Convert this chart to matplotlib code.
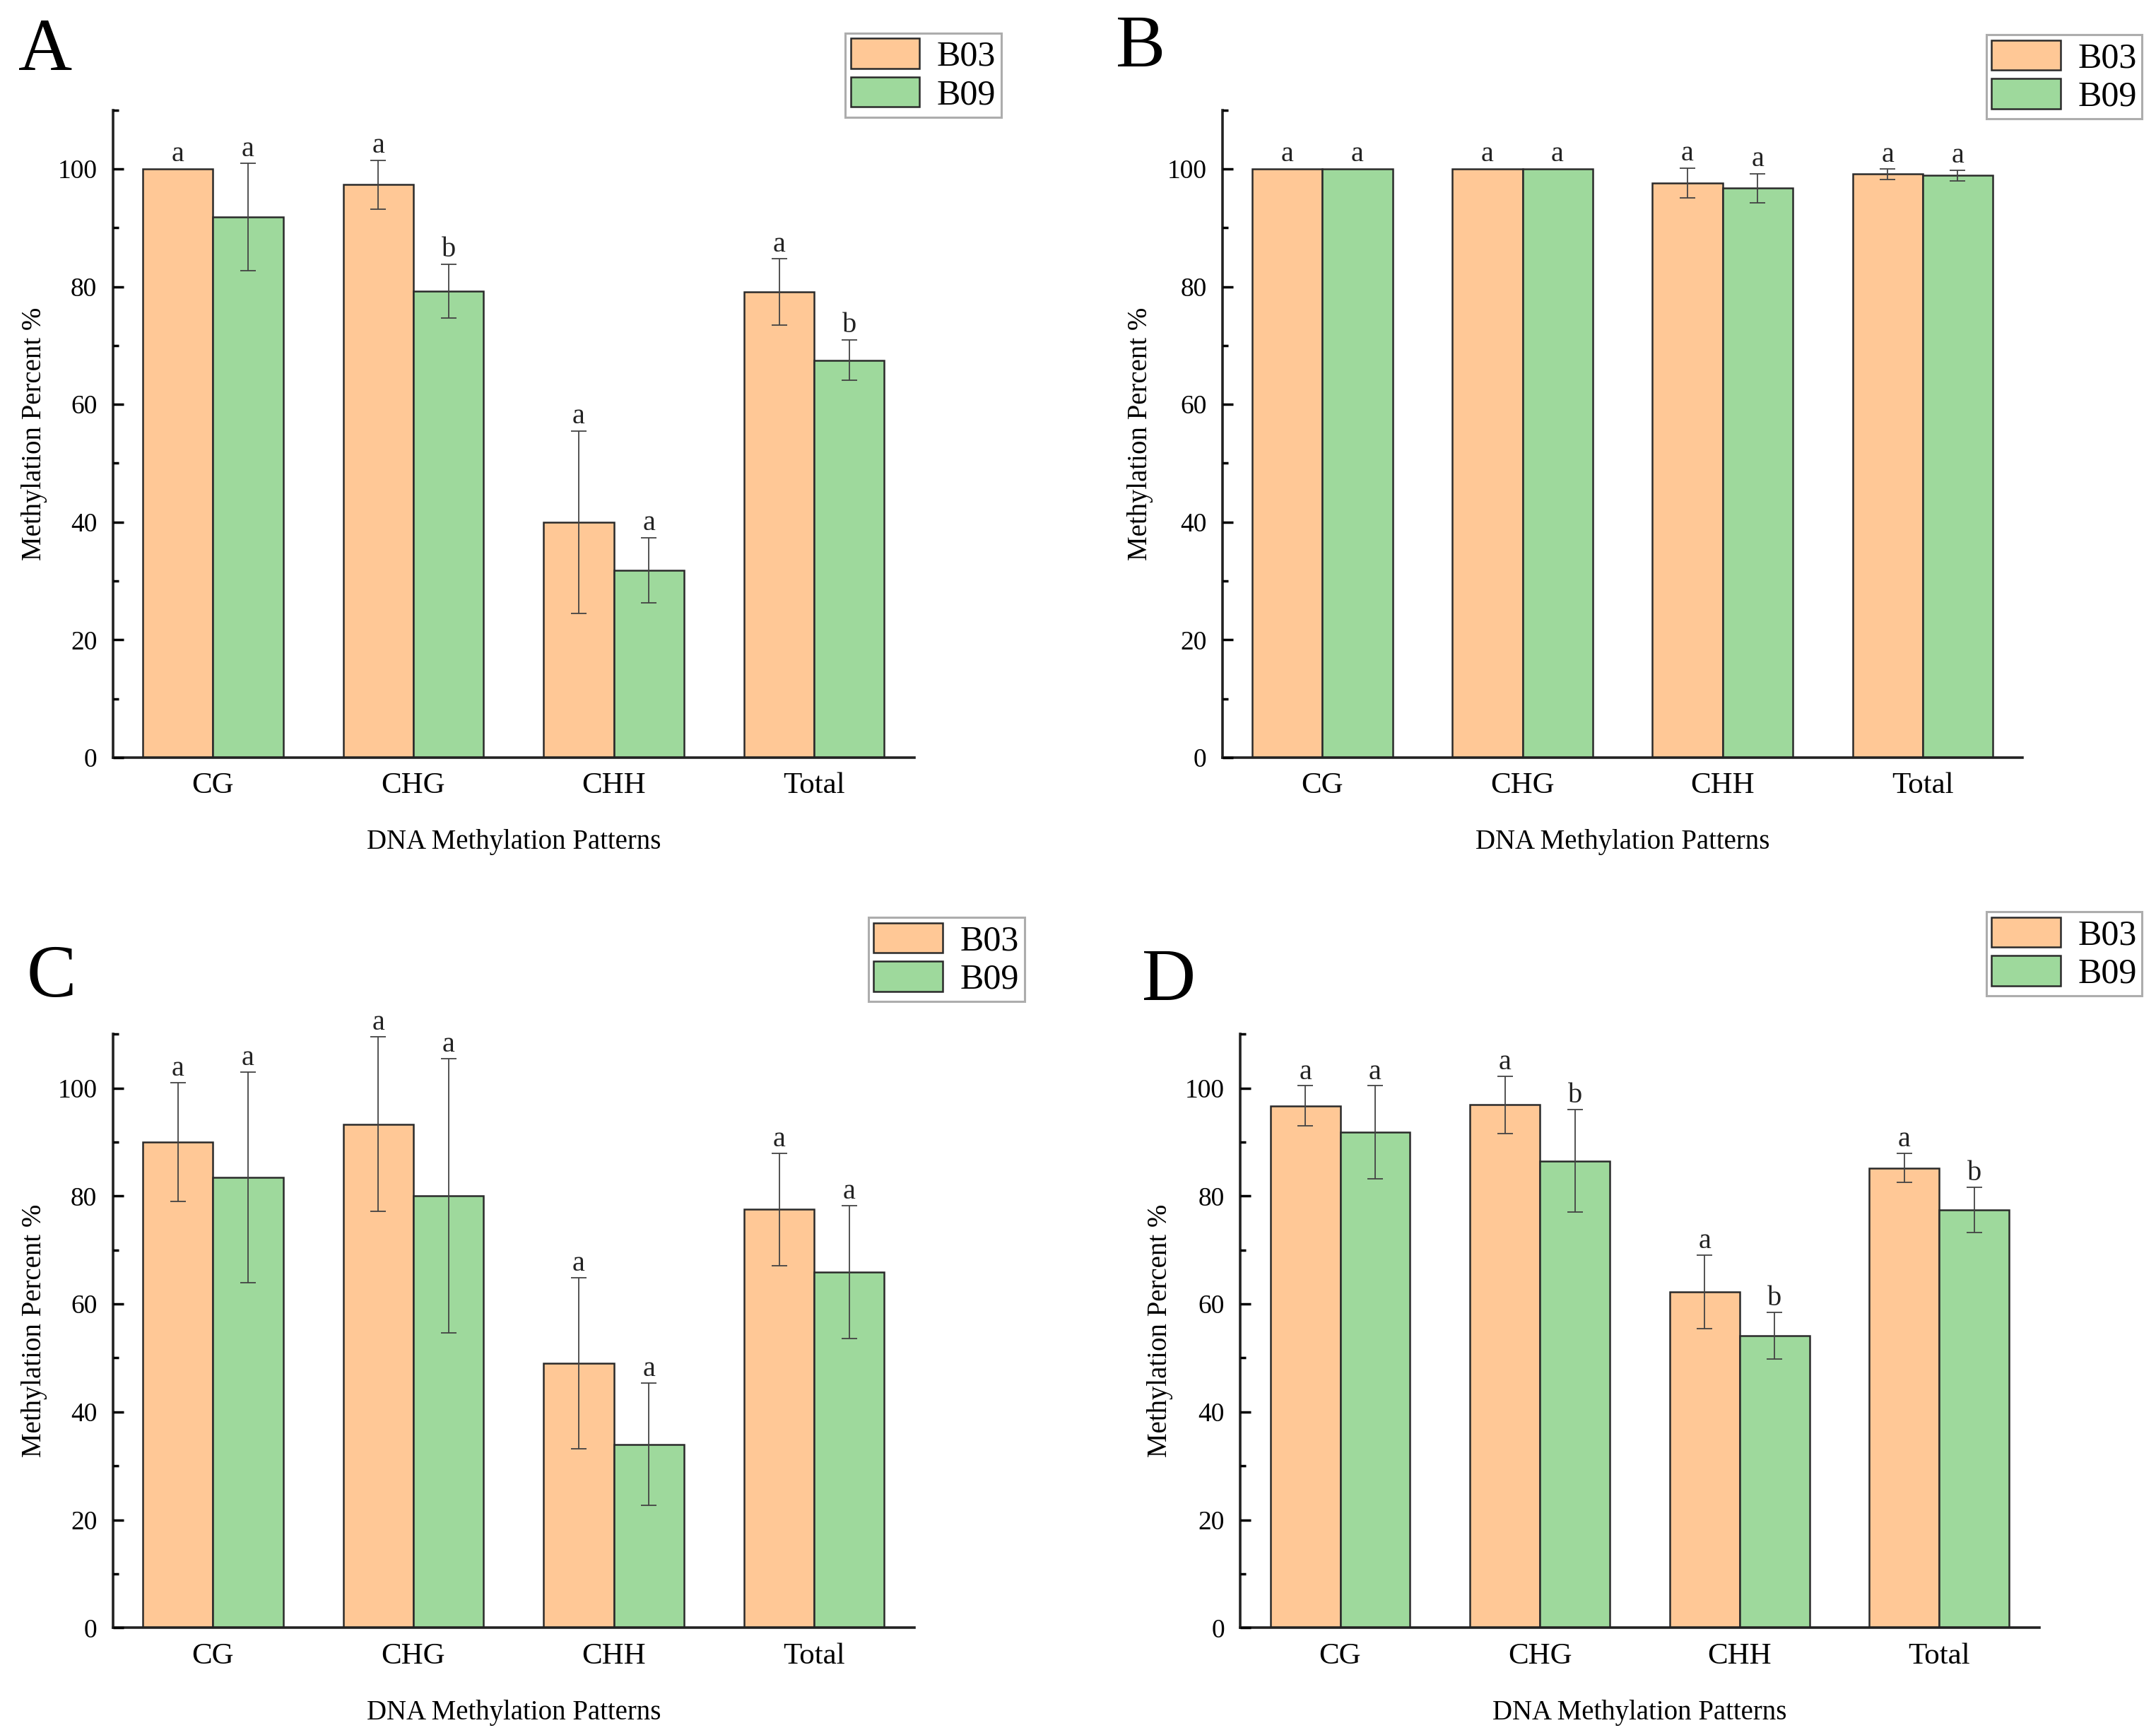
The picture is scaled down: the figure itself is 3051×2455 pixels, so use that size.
import matplotlib
matplotlib.use("Agg")
import matplotlib.pyplot as plt
import numpy as np
from matplotlib.ticker import MultipleLocator

plt.rcParams['font.family'] = ['Liberation Serif', 'DejaVu Serif']

categories = ["CG", "CHG", "CHH", "Total"]
series_names = ["B03", "B09"]

# Panel A
A_b03 = [100.0, 97.3, 40.0, 79.1]
A_b03_err = [0.0, 4.1, 15.5, 5.6]
A_b09 = [91.8, 79.2, 31.8, 67.5]
A_b09_err = [9.1, 4.6, 5.5, 3.4]
A_b03_sig = ["a", "a", "a", "a"]
A_b09_sig = ["a", "b", "a", "b"]

# Panel B
B_b03 = [100.0, 100.0, 97.6, 99.1]
B_b03_err = [0.0, 0.0, 2.5, 0.85]
B_b09 = [100.0, 100.0, 96.7, 98.9]
B_b09_err = [0.0, 0.0, 2.5, 0.9]
B_b03_sig = ["a", "a", "a", "a"]
B_b09_sig = ["a", "a", "a", "a"]

# Panel C
C_b03 = [90.0, 93.3, 49.0, 77.5]
C_b03_err = [11.0, 16.2, 15.8, 10.4]
C_b09 = [83.4, 80.0, 34.0, 65.9]
C_b09_err = [19.5, 25.4, 11.3, 12.3]
C_b03_sig = ["a", "a", "a", "a"]
C_b09_sig = ["a", "a", "a", "a"]

# Panel D
D_b03 = [96.7, 96.9, 62.2, 85.2]
D_b03_err = [3.7, 5.3, 6.8, 2.7]
D_b09 = [91.8, 86.5, 54.1, 77.4]
D_b09_err = [8.6, 9.5, 4.3, 4.2]
D_b03_sig = ["a", "a", "a", "a"]
D_b09_sig = ["a", "b", "b", "b"]

panel_letters = ["A", "B", "C", "D"]
yticks = [0, 20, 40, 60, 80, 100]
xlabel = "DNA Methylation Patterns"
ylabel = "Methylation Percent %"

orange = "#FFC896"
green = "#9ED99C"

W, H = 3051, 2455
fig = plt.figure(figsize=(W / 100, H / 100), dpi=100)

# axes rects in figure fractions (left, bottom, width, height)
rects = [
    (0.0523, 0.5634, 0.4241 - 0.0523, 0.9366 - 0.5634),
    (0.5670, 0.5634, 0.9381 - 0.5670, 0.9366 - 0.5634),
    (0.0523, 0.0618, 0.4241 - 0.0523, 0.4040 - 0.0618),
    (0.5753, 0.0618, 0.9458 - 0.5753, 0.4040 - 0.0618),
]
legend_anchor = [(0.4644, 0.9809), (0.9936, 0.9800), (0.4751, 0.4712), (0.9936, 0.4745)]
letter_pos = [(0.021, 0.970), (0.529, 0.972), (0.024, 0.436), (0.542, 0.434)]
ylabel_x = [0.016, 0.529, 0.016, 0.538]
xlabel_y = [0.5145, 0.5145, 0.0130, 0.0130]

data = [
    (A_b03, A_b03_err, A_b09, A_b09_err, A_b03_sig, A_b09_sig),
    (B_b03, B_b03_err, B_b09, B_b09_err, B_b03_sig, B_b09_sig),
    (C_b03, C_b03_err, C_b09, C_b09_err, C_b03_sig, C_b09_sig),
    (D_b03, D_b03_err, D_b09, D_b09_err, D_b03_sig, D_b09_sig),
]

bw = 0.35
x = np.arange(len(categories))
for i, (rect, d) in enumerate(zip(rects, data)):
    b03, e03, b09, e09, s03, s09 = d
    ax = fig.add_axes(rect)
    h1 = ax.bar(x - bw / 2, b03, bw, color=orange, edgecolor="#2a2a2a", linewidth=1.8, label=series_names[0], zorder=2)
    h2 = ax.bar(x + bw / 2, b09, bw, color=green, edgecolor="#2a2a2a", linewidth=1.8, label=series_names[1], zorder=2)
    for xs, vals, errs, sigs in [(x - bw / 2, b03, e03, s03), (x + bw / 2, b09, e09, s09)]:
        for xx, v, e, s in zip(xs, vals, errs, sigs):
            if e > 0:
                ax.errorbar(xx, v, yerr=e, fmt="none", ecolor="#444444", elinewidth=1.3,
                            capsize=8, capthick=1.3, zorder=3)
            ax.text(xx, v + e + 1.3, s, ha="center", va="baseline", fontsize=29, color="#222222")
    ax.set_xlim(-0.5, 3.5)
    ax.set_ylim(0, 110)
    ax.set_yticks(yticks)
    ax.yaxis.set_minor_locator(MultipleLocator(10))
    ax.set_xticks(x)
    ax.set_xticklabels(categories, fontsize=31)
    ax.tick_params(axis="x", length=0, pad=15)
    ax.tick_params(axis="y", which="major", direction="in", length=11, width=2.5, labelsize=27, pad=16)
    ax.tick_params(axis="y", which="minor", direction="in", length=6, width=2.5)
    for sp in ["top", "right"]:
        ax.spines[sp].set_visible(False)
    for sp in ["left", "bottom"]:
        ax.spines[sp].set_linewidth(2.6)
        ax.spines[sp].set_color("#222222")
    ax.set_axisbelow(False)

    leg = fig.legend(handles=[h1, h2], labels=series_names, loc="upper right",
                     bbox_to_anchor=legend_anchor[i], fontsize=36, frameon=True, fancybox=False,
                     handlelength=1.95, handleheight=0.93, handletextpad=0.5, labelspacing=0.1,
                     borderpad=0.15, borderaxespad=0.0)
    leg.get_frame().set_edgecolor("#999999")
    leg.get_frame().set_linewidth(2.2)

    fig.text(letter_pos[i][0], letter_pos[i][1], panel_letters[i], fontsize=76, ha="center", va="center")
    cy = rect[1] + rect[3] / 2
    fig.text(ylabel_x[i], cy, ylabel, rotation=90, fontsize=28, ha="center", va="center")
    cx = rect[0] + rect[2] / 2
    fig.text(cx, xlabel_y[i], xlabel, fontsize=28, ha="center", va="center")

fig.savefig("out.png", dpi=100, facecolor="white")
